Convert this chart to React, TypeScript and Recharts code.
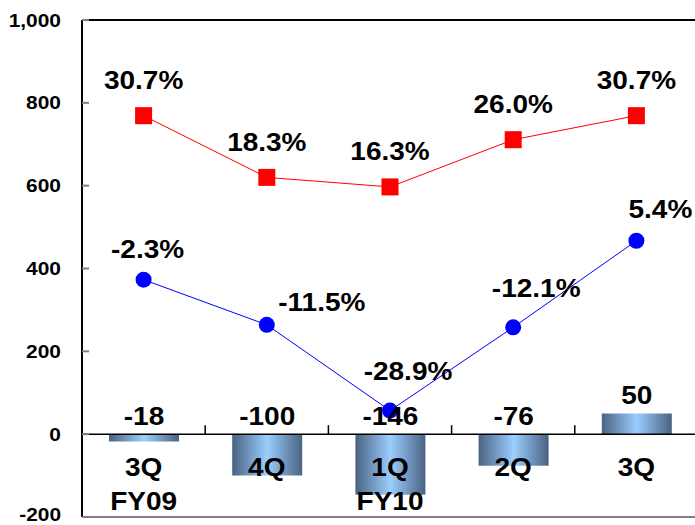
import {
  ComposedChart, Bar, Line, XAxis, YAxis, ReferenceLine, LabelList,
} from "recharts";

// ─── Data ─────────────────────────────────────────────────────────────────────
const QUARTERS = ["3Q", "4Q", "1Q", "2Q", "3Q"];
const FISCAL_YEARS = ["FY09", "", "FY10", "", ""];
const BAR_VALUES = [-18, -100, -146, -76, 50];
const RED_VALUES = [769, 620, 597, 711, 769];
const RED_LABELS = ["30.7%", "18.3%", "16.3%", "26.0%", "30.7%"];
const BLUE_VALUES = [373, 264, 57, 258, 467];
const BLUE_LABELS = ["-2.3%", "-11.5%", "-28.9%", "-12.1%", "5.4%"];
const Y_TICKS = [-200, 0, 200, 400, 600, 800, 1000];

const data = QUARTERS.map((q, i) => ({
  key: `${q}-${i}`,
  bar: BAR_VALUES[i],
  red: RED_VALUES[i],
  blue: BLUE_VALUES[i],
}));

const FONT = "'Liberation Sans', Arial, sans-serif";
const STRETCH = 1.12;

// bold text, slightly widened like the original slide
const BigText = ({ x, y, size = 25, children }: any) => (
  <text
    transform={`translate(${x},${y}) scale(${STRETCH},1)`}
    textAnchor="middle"
    dominantBaseline="central"
    fontFamily={FONT}
    fontWeight="bold"
    fontSize={size}
    fill="#000"
  >
    {children}
  </text>
);

// hand-placed offsets of the blue labels in the slide
const BLUE_DX = [4, 55, 18, 23, 24];
const BLUE_DY = [-30, -22, -39, -39, -31];

const YTick = ({ x, y, payload }: any) => (
  <g>
    <line x1={x} x2={x + 7} y1={y} y2={y} stroke="#808080" strokeWidth={2} />
    <text
      transform={`translate(${x - 21},${Math.min(y, 514)}) scale(1.1,1)`}
      textAnchor="end"
      dominantBaseline="central"
      fontFamily={FONT}
      fontWeight="bold"
      fontSize={19}
      fill="#000"
    >
      {payload.value.toLocaleString("en-US")}
    </text>
  </g>
);

const XTick = ({ x, y, payload }: any) => {
  const i = payload.index;
  return (
    <g>
      <BigText x={x} y={y - 49}>{QUARTERS[i]}</BigText>
      {FISCAL_YEARS[i] && <BigText x={x} y={y - 15}>{FISCAL_YEARS[i]}</BigText>}
    </g>
  );
};

const ZeroLine = (p: any) => {
  const n = QUARTERS.length;
  const ticks = [];
  for (let i = 1; i < n; i++) {
    const tx = p.x1 + ((p.x2 - p.x1) * i) / n;
    ticks.push(<line key={i} x1={tx} x2={tx} y1={p.y1} y2={p.y1 - 9} stroke="#000" strokeWidth={1.5} />);
  }
  return (
    <g>
      <line x1={p.x1} x2={p.x2} y1={p.y1} y2={p.y2} stroke="#000" strokeWidth={1.5} />
      {ticks}
    </g>
  );
};

const BarLabel = ({ x, y, width, height, value }: any) => {
  const top = Math.min(y, y + height);
  return <BigText x={x + width / 2} y={top - 18}>{value}</BigText>;
};

const RedLabel = ({ x, y, index }: any) => (
  <BigText x={x} y={y - 35}>{RED_LABELS[index]}</BigText>
);

const BlueLabel = ({ x, y, index }: any) => (
  <BigText x={x + BLUE_DX[index]} y={y + BLUE_DY[index]}>{BLUE_LABELS[index]}</BigText>
);

const SquareDot = ({ cx, cy, index }: any) => (
  <rect key={index} x={cx - 8.5} y={cy - 8.5} width={17} height={17} fill="#ff0000" />
);

export default function App() {
  return (
    <div style={{ position: "fixed", left: 0, top: 0, width: 695, height: 525, overflow: "hidden", background: "#fff" }}>
      <ComposedChart width={698} height={525} data={data} margin={{ top: 20, right: 0, left: 0, bottom: 7 }}>
        <defs>
          <linearGradient id="barGrad" x1="0" y1="0" x2="1" y2="0">
            <stop offset="0%" stopColor="#4a6282" />
            <stop offset="50%" stopColor="#9bceff" />
            <stop offset="100%" stopColor="#4a6282" />
          </linearGradient>
        </defs>
        <XAxis dataKey="key" height={1} axisLine={false} tickLine={false} tickSize={0} tickMargin={0} interval={0} tick={<XTick />} />
        <YAxis
          domain={[-200, 1000]} ticks={Y_TICKS} interval={0} width={82}
          axisLine={{ stroke: "#000", strokeWidth: 2 }} tickLine={false} tickSize={0} tickMargin={0}
          tick={<YTick />}
        />
        <ReferenceLine y={1000} stroke="#000" strokeWidth={2} />
        <ReferenceLine y={-200} stroke="#808080" strokeWidth={2} />
        <ReferenceLine y={0} shape={ZeroLine} />
        <Bar dataKey="bar" fill="url(#barGrad)" barSize={70} isAnimationActive={false}>
          <LabelList dataKey="bar" content={<BarLabel />} />
        </Bar>
        <Line dataKey="red" stroke="#ff0000" strokeWidth={1} dot={SquareDot} activeDot={false} isAnimationActive={false}>
          <LabelList dataKey="red" content={<RedLabel />} />
        </Line>
        <Line dataKey="blue" stroke="#0000ff" strokeWidth={1} dot={{ r: 8, fill: "#0000ff", stroke: "none" }} activeDot={false} isAnimationActive={false}>
          <LabelList dataKey="blue" content={<BlueLabel />} />
        </Line>
      </ComposedChart>
    </div>
  );
}
